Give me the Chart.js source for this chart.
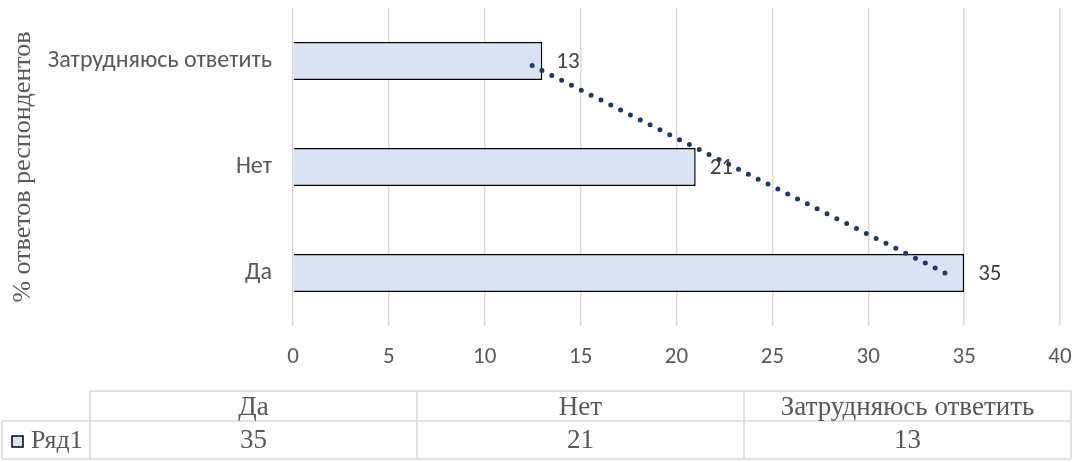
<!DOCTYPE html>
<html lang="ru">
<head>
    <meta charset="UTF-8">
    <title>% ответов респондентов</title>
    <script src="https://cdn.jsdelivr.net/npm/chart.js"></script>
    <style>
        body { margin: 0; background: #fff; }
        #chart { display: block; }
    </style>
</head>
<body>
<canvas id="chart" width="1073" height="462"></canvas>

<script>
    // Data (in the same order as the Excel table)
    const categories = ['Да', 'Нет', 'Затрудняюсь ответить'];
    const values = [35, 21, 13];
    const trendValues = [34, 23, 12];
    const seriesName = 'Ряд1';
    const axisTitle = '% ответов респондентов';
    const xTicks = [0, 5, 10, 15, 20, 25, 30, 35, 40];

    // Colours
    const barFill = '#dae3f3';
    const barBorder = '#000000';
    const trendColor = '#203864';
    const gridColor = '#d9d9d9';
    const textColor = '#595959';
    const sansFont = "Carlito, Calibri, 'Open Sans', sans-serif";
    const serifFont = "'Liberation Serif', 'Times New Roman', serif";

    // Value labels to the right of each bar
    const valueLabels = {
        id: 'valueLabels',
        afterDatasetsDraw(chart) {
            const ctx = chart.ctx;
            const meta = chart.getDatasetMeta(0);
            ctx.save();
            ctx.font = '23px ' + sansFont;
            ctx.fillStyle = '#404040';
            ctx.textAlign = 'left';
            ctx.textBaseline = 'middle';
            meta.data.forEach((bar, i) => {
                ctx.fillText(String(values[i]), bar.x + 14, bar.y + 1);
            });
            ctx.restore();
        }
    };

    // Data table under the chart
    const dataTable = {
        id: 'dataTable',
        afterDraw(chart) {
            const ctx = chart.ctx;
            const left = 2, firstCol = 90, right = 1071;
            const top = 391, mid = 421, bottom = 459;
            const colW = (right - firstCol) / categories.length;
            ctx.save();
            ctx.strokeStyle = gridColor;
            ctx.lineWidth = 1.5;
            ctx.beginPath();
            ctx.moveTo(firstCol, top); ctx.lineTo(right, top);
            ctx.moveTo(left, mid); ctx.lineTo(right, mid);
            ctx.moveTo(left, bottom); ctx.lineTo(right, bottom);
            ctx.moveTo(left, mid); ctx.lineTo(left, bottom);
            for (let i = 0; i <= categories.length; i++) {
                const x = firstCol + colW * i;
                ctx.moveTo(x, top); ctx.lineTo(x, bottom);
            }
            ctx.stroke();

            ctx.font = '27px ' + serifFont;
            ctx.fillStyle = textColor;
            ctx.textAlign = 'center';
            ctx.textBaseline = 'middle';
            categories.forEach((c, i) => {
                const cx = firstCol + colW * (i + 0.5);
                ctx.fillText(c, cx, (top + mid) / 2 + 2);
                ctx.fillText(String(values[i]), cx, (mid + bottom) / 2 + 1);
            });

            // legend key + series name
            ctx.fillStyle = barFill;
            ctx.fillRect(12, 436, 11, 11);
            ctx.strokeStyle = '#000';
            ctx.lineWidth = 1.5;
            ctx.strokeRect(12, 436, 11, 11);
            ctx.font = '26px ' + serifFont;
            ctx.fillStyle = textColor;
            ctx.textAlign = 'left';
            ctx.fillText(seriesName, 31, (mid + bottom) / 2 + 1);
            ctx.restore();
        }
    };

    const ctx = document.getElementById('chart').getContext('2d');
    new Chart(ctx, {
        data: {
            labels: categories,
            datasets: [{
                type: 'bar',
                label: seriesName,
                data: values,
                backgroundColor: barFill,
                borderColor: barBorder,
                borderWidth: 1.5,
                barPercentage: 0.36,
                categoryPercentage: 1,
                order: 1
            }, {
                type: 'line',
                label: 'Тренд',
                data: trendValues,
                borderColor: trendColor,
                borderWidth: 5,
                borderDash: [0, 11],
                borderCapStyle: 'round',
                pointRadius: 0,
                fill: false,
                order: 0
            }]
        },
        options: {
            indexAxis: 'y',
            responsive: false,
            animation: false,
            layout: { padding: { left: 0, top: 8, right: 13, bottom: 0 } },
            plugins: {
                legend: { display: false },
                tooltip: { enabled: false }
            },
            scales: {
                x: {
                    type: 'linear',
                    min: 0,
                    max: 40,
                    afterBuildTicks(scale) {
                        scale.ticks = xTicks.map(v => ({ value: v }));
                    },
                    grid: { color: gridColor, lineWidth: 1.5, drawTicks: false },
                    border: { display: false },
                    ticks: {
                        padding: 17,
                        color: textColor,
                        font: { family: sansFont, size: 23 }
                    },
                    afterFit(scale) {
                        scale.height = 136;
                        scale.paddingLeft = 0;
                        scale.paddingRight = 0;
                    }
                },
                y: {
                    type: 'category',
                    reverse: true,
                    offset: true,
                    grid: { display: false, drawTicks: false },
                    border: { display: false },
                    ticks: {
                        padding: 21,
                        color: textColor,
                        font: { family: sansFont, size: 24 }
                    },
                    title: {
                        display: true,
                        text: axisTitle,
                        color: textColor,
                        font: { family: serifFont, size: 26 },
                        padding: { top: 8, bottom: 0 }
                    },
                    afterFit(scale) {
                        scale.width = 293;
                        scale.paddingTop = 0;
                        scale.paddingBottom = 0;
                    }
                }
            }
        },
        plugins: [valueLabels, dataTable]
    });
</script>
</body>
</html>
